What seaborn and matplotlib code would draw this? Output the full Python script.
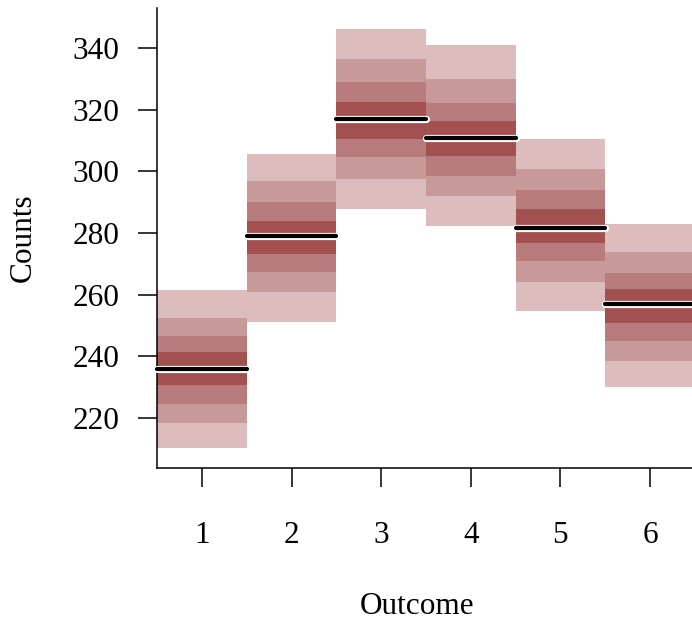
import matplotlib
matplotlib.use("Agg")
import matplotlib.pyplot as plt
import matplotlib.patheffects as pe
import seaborn as sns
import numpy as np

outcomes = [1, 2, 3, 4, 5, 6]
q10 = [210.4, 251.1, 287.9, 282.2, 254.8, 230.1]
q20 = [218.5, 261.0, 297.5, 291.9, 264.1, 238.5]
q30 = [224.5, 267.3, 304.6, 298.6, 270.9, 244.9]
q40 = [230.8, 273.1, 310.6, 305.1, 276.8, 250.9]
q50 = [236.0, 279.1, 317.0, 310.7, 281.8, 256.9]
q60 = [241.4, 283.9, 322.4, 316.5, 287.7, 261.8]
q70 = [246.7, 290.0, 328.9, 322.3, 293.9, 267.2]
q80 = [252.5, 297.0, 336.3, 329.9, 300.7, 273.9]
q90 = [261.5, 305.5, 346.1, 341.0, 310.4, 283.1]
yticks = [220, 240, 260, 280, 300, 320, 340]

sns.set_theme(style="ticks")
plt.rcParams['font.family'] = ['Liberation Serif', 'DejaVu Serif']

fig = plt.figure(figsize=(6.92, 6.2), dpi=100)
ax = fig.add_axes([157.2 / 692, 152 / 620, 537.6 / 692, 460 / 620])

c_light = "#DCBCBC"
c_light_hl = "#C79999"
c_mid = "#B97C7C"
c_mid_hl = "#A25050"

bands = [(q10, q90, c_light), (q20, q80, c_light_hl),
         (q30, q70, c_mid), (q40, q60, c_mid_hl)]
x = np.array(outcomes, dtype=float)
for lo, hi, col in bands:
    lo = np.array(lo); hi = np.array(hi)
    ax.bar(x, hi - lo, bottom=lo, width=1.0, color=col, linewidth=0, clip_on=False)

for xi, m in zip(x, q50):
    ax.plot([xi - 0.5, xi + 0.5], [m, m], color="black", lw=3.0,
            solid_capstyle="round", clip_on=False, zorder=5,
            path_effects=[pe.Stroke(linewidth=5.2, foreground="white"), pe.Normal()])

ax.set_xlim(0.5, 6.5)
ax.set_ylim(203.8, 353.0)
ax.set_xticks(outcomes)
ax.set_xticklabels([str(o) for o in outcomes])
ax.set_yticks(yticks)
ax.set_yticklabels([str(t) for t in yticks])

ax.tick_params(axis="both", direction="out", length=14, width=1.1, color="black",
               labelsize=22.5, labelcolor="black")
ax.tick_params(axis="x", pad=24)
ax.tick_params(axis="y", pad=13)

sns.despine(ax=ax)
for s in ["left", "bottom"]:
    ax.spines[s].set_linewidth(1.1)
    ax.spines[s].set_color("black")

ax.set_xlabel("Outcome", fontsize=22.5, color="black")
ax.set_ylabel("Counts", fontsize=22.5, color="black")
ax.xaxis.set_label_coords((417 - 157.2) / 537.6, -(606 - 468) / 460, transform=ax.transAxes)
ax.yaxis.set_label_coords(-(157.2 - 23) / 537.6, 0.5, transform=ax.transAxes)
ax.xaxis.label.set_verticalalignment("center")
ax.yaxis.label.set_verticalalignment("center")
ax.grid(False)
ax.set_facecolor("white")

fig.savefig("out.png", dpi=100, facecolor="white")
